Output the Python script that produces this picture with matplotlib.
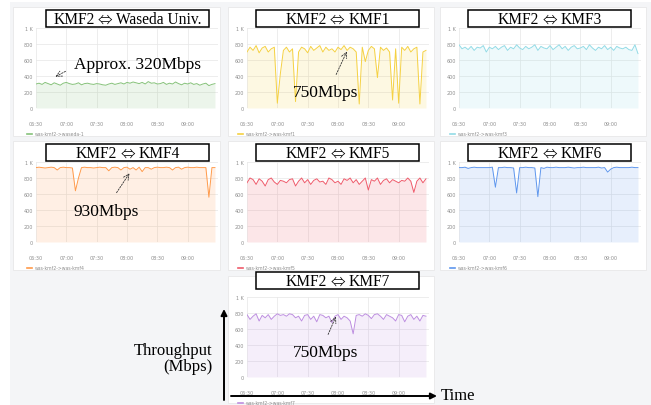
import numpy as np
import matplotlib.pyplot as plt
from matplotlib.patches import Rectangle

# throughput samples (Mbps), one every 3 minutes from 06:30
waseda = [300, 310, 295, 320, 305, 290, 315, 300, 285, 310, 320, 305, 295, 300, 315, 290, 305, 310, 300, 295,
          305, 300, 290, 285, 300, 310, 295, 305, 315, 300, 320, 310, 325, 315, 305, 320, 300, 330, 310, 315,
          300, 305, 320, 295, 310, 300, 325, 305, 290, 310, 300, 315, 295, 305, 285, 300, 310, 280, 295, 305]
kmf1 = [700, 760, 720, 780, 690, 750, 770, 700, 740, 760, 60, 430, 720, 760, 700, 740, 80, 700, 760, 740,
        690, 770, 720, 750, 780, 700, 760, 720, 740, 700, 760, 730, 780, 720, 760, 740, 700, 50, 760, 580,
        720, 770, 740, 380, 760, 720, 750, 700, 100, 740, 60, 760, 720, 770, 700, 740, 760, 50, 700, 720]
kmf3 = [790, 740, 760, 730, 770, 720, 760, 750, 780, 700, 760, 740, 770, 730, 760, 780, 720, 760, 740, 790,
        750, 730, 770, 740, 760, 790, 720, 770, 750, 740, 780, 730, 760, 790, 740, 770, 720, 760, 780, 740,
        750, 770, 730, 790, 750, 720, 760, 740, 780, 730, 760, 720, 770, 750, 740, 760, 730, 720, 790, 680]
kmf4 = [930, 935, 930, 925, 930, 935, 930, 900, 930, 935, 930, 930, 925, 640, 800, 930, 935, 930, 930, 925,
        930, 935, 930, 930, 890, 930, 935, 930, 900, 930, 935, 910, 930, 900, 935, 880, 930, 930, 910, 930,
        935, 930, 930, 935, 930, 900, 930, 935, 910, 930, 935, 930, 930, 935, 930, 930, 930, 560, 930, 930]
kmf5 = [740, 800, 780, 720, 790, 760, 700, 780, 800, 750, 720, 770, 760, 740, 780, 790, 700, 760, 800, 740,
        780, 720, 770, 790, 750, 760, 720, 800, 780, 740, 760, 720, 790, 770, 800, 740, 780, 720, 760, 800,
        650, 780, 760, 800, 720, 770, 790, 740, 780, 760, 740, 770, 760, 800, 760, 620, 760, 800, 740, 790]
kmf6 = [930, 930, 935, 920, 930, 935, 930, 930, 930, 930, 930, 935, 685, 930, 930, 935, 930, 930, 925, 613,
        930, 930, 935, 930, 930, 925, 567, 930, 920, 935, 930, 930, 935, 930, 930, 930, 935, 930, 925, 930,
        930, 935, 930, 930, 930, 930, 935, 925, 930, 874, 910, 930, 935, 930, 930, 930, 930, 935, 930, 930]
kmf7 = [780, 720, 760, 790, 700, 770, 740, 780, 720, 760, 790, 770, 780, 760, 790, 780, 740, 760, 700, 770,
        780, 720, 760, 690, 780, 770, 740, 760, 680, 760, 780, 720, 760, 740, 700, 540, 770, 780, 760, 790,
        770, 730, 780, 790, 760, 720, 780, 760, 740, 700, 780, 770, 690, 760, 780, 720, 760, 700, 770, 760]

xtick_pos = [0, 30, 60, 90, 120, 150]
xtick_lab = ['06:30', '07:00', '07:30', '08:00', '08:30', '09:00']
ytick_pos = [0, 200, 400, 600, 800, 1000]
ytick_lab = ['0', '200', '400', '600', '800', '1 K']

peers = ['Waseda Univ.', 'KMF1', 'KMF3', 'KMF4', 'KMF5', 'KMF6', 'KMF7']
legends = ['was-kmf2->waseda-1', 'was-kmf2->was-kmf1', 'was-kmf2->was-kmf3',
           'was-kmf2->was-kmf4', 'was-kmf2->was-kmf5', 'was-kmf2->was-kmf6', 'was-kmf2->was-kmf7']
series = [waseda, kmf1, kmf3, kmf4, kmf5, kmf6, kmf7]
colors = ['#86c27a', '#f5d142', '#92dbe6', '#ff9a4a', '#ef5b6b', '#5f97ee', '#bd8ee0']

W, H = 651, 406
fig = plt.figure(figsize=(6.51, 4.06), dpi=100)
fig.patch.set_facecolor('white')
renderer = fig.canvas.get_renderer()

def px_axes(x0, y0, x1, y1, **kw):
    return fig.add_axes([x0 / W, 1 - y1 / H, (x1 - x0) / W, (y1 - y0) / H], **kw)

serif = ['Liberation Serif', 'DejaVu Serif']

# background canvas and panels
bg = px_axes(0, 0, W, H, zorder=-5)
bg.set_xlim(0, W); bg.set_ylim(H, 0); bg.axis('off')
bg.add_patch(Rectangle((10, 3), W - 10, H - 3, facecolor='#f4f5f7', lw=0))

cols = [13, 228, 440]
rows = [8, 142, 277]
cells = [(0, 0), (1, 0), (2, 0), (0, 1), (1, 1), (2, 1), (1, 2)]

ov = px_axes(0, 0, W, H, zorder=10)
ov.set_xlim(0, W); ov.set_ylim(H, 0); ov.axis('off')
ov.patch.set_alpha(0)

def title(cx, base, right):
    # "KMF2 <=> right", the arrow taken from a CJK font so it is full width
    parts = [ov.text(0, base, 'KMF2', fontsize=11.2, family=serif),
             ov.text(0, base + 0.5, '\u21d4', fontsize=10.5, family='Noto Sans CJK JP', fontweight='light'),
             ov.text(0, base, right, fontsize=11.2, family=serif)]
    ws = [p.get_window_extent(renderer).width for p in parts]
    gap = 3.5
    x = cx - (sum(ws) + 2 * gap) / 2
    for p, w in zip(parts, ws):
        p.set_x(x)
        x += w + gap

t = np.arange(len(waseda)) * 3

for k, (c, r) in enumerate(cells):
    pl, pt = cols[c], rows[r]
    pw = 207 if c == 0 else 206
    ph = 129 if r < 2 else 127
    bg.add_patch(Rectangle((pl, pt), pw, ph, facecolor='white', edgecolor='#e8e8e8', lw=0.6))

    left = pl + (23 if c == 0 else 19)
    top = pt + 21
    ax = px_axes(left, top, left + 182, top + 80)
    ax.plot(t, series[k], color=colors[k], lw=0.7)
    ax.fill_between(t, 0, series[k], color=colors[k], alpha=0.15, lw=0)
    ax.set_xlim(0, 180)
    ax.set_ylim(0, 1000)
    ax.set_xticks(xtick_pos, xtick_lab)
    ax.set_yticks(ytick_pos, ytick_lab)
    ax.tick_params(length=0, labelsize=3.5, colors='#8e8e8e')
    ax.tick_params(axis='x', pad=9.5)
    ax.tick_params(axis='y', pad=2)
    ax.grid(color='#e6e6e6', lw=0.5)
    ax.set_axisbelow(True)
    for s in ax.spines.values():
        s.set_visible(False)

    # legend entry
    ly = top + 80 + 26
    ov.plot([left - 9, left - 4], [ly, ly], color=colors[k], lw=1.2)
    ov.text(left - 1, ly, legends[k], fontsize=3.3, color='#8e8e8e', va='center')

    # title box
    bx0 = pl + (33 if c == 0 else 28)
    by0 = pt + 3 if r < 2 else pt - 4
    ov.add_patch(Rectangle((bx0, by0), 163, 17, facecolor='white', edgecolor='black', lw=1.1))
    title(bx0 + 81.5, by0 + 13.5, peers[k])

# annotations
arr = dict(arrowstyle='->', ls=(0, (2, 1.5)), lw=0.6, color='#333333')
ov.text(137, 65, 'Approx. 320Mbps', fontsize=12.5, family=serif, ha='center', va='center')
ov.annotate('', xy=(53, 79), xytext=(68, 71), arrowprops=arr)
ov.text(326, 93, '750Mbps', fontsize=12.5, family=serif, ha='center', va='center')
ov.annotate('', xy=(348, 50), xytext=(335, 78), arrowprops=arr)
ov.text(106, 212, '930Mbps', fontsize=12.5, family=serif, ha='center', va='center')
ov.annotate('', xy=(131, 172), xytext=(115, 196), arrowprops=arr)
ov.text(326, 353, '750Mbps', fontsize=12.5, family=serif, ha='center', va='center')
ov.annotate('', xy=(337, 315), xytext=(327, 338), arrowprops=arr)

# axis arrows
big = dict(arrowstyle='-|>', lw=1.4, color='black', mutation_scale=9, shrinkA=0, shrinkB=0)
ov.annotate('', xy=(224, 310), xytext=(224, 401), arrowprops=big)
ov.annotate('', xy=(437, 397), xytext=(231, 397), arrowprops=big)
ov.text(441, 396, 'Time', fontsize=12, family=serif, ha='left', va='center')
ov.text(212, 359, 'Throughput\n(Mbps)', fontsize=12, family=serif, ha='right', va='center',
        multialignment='right', linespacing=1.05)

fig.savefig('out.png', dpi=100)
